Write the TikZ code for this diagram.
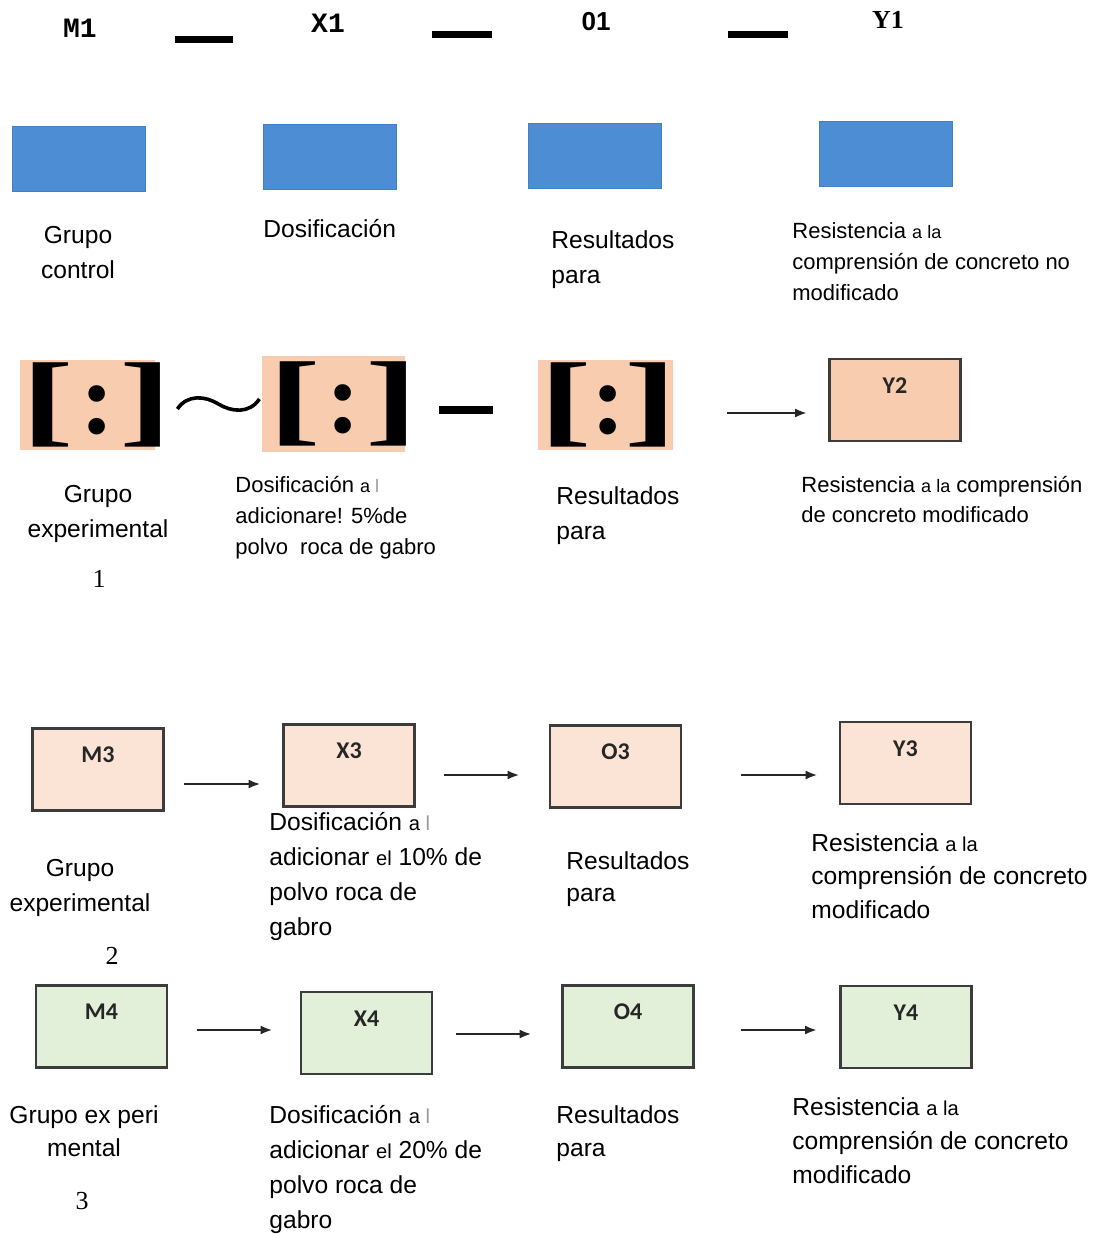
\documentclass[tikz,border=0pt]{standalone}
\usepackage{fontspec}
\usepackage{graphicx}
\setmainfont{Liberation Sans}
\newfontfamily\serfont{Liberation Serif}
\newfontfamily\boxfont{Carlito}
\newfontfamily\hdmono{Liberation Mono}
\usetikzlibrary{arrows.meta}

\definecolor{blueb}{RGB}{76,141,212}
\definecolor{bluebd}{RGB}{66,128,196}
\definecolor{peach}{RGB}{248,204,174}
\definecolor{peachlt}{RGB}{251,228,213}
\definecolor{greenlt}{RGB}{226,240,217}
\definecolor{edge}{RGB}{60,60,60}

\makeatletter
\newcommand\smw[1]{{\fontsize{\fpeval{0.82*\f@size}}{\f@baselineskip}\selectfont #1}}
\makeatother
\newcommand\brkt[1]{\hspace*{1pt}\scalebox{1.55}[1]{[}\hspace{#1}:\hspace{#1}\scalebox{1.55}[1]{]}}

\begin{document}
\begin{tikzpicture}
	[x=0.5pt,y=-0.5pt,every node/.style={inner sep=0pt},
	bluebox/.style={fill=blueb,draw=bluebd,line width=0.5pt,minimum width=66.5pt,minimum height=32.5pt},
	brk/.style={fill=peach,minimum width=67.5pt,minimum height=45pt,font=\serfont\bfseries\fontsize{51}{51}\selectfont},
	box/.style={draw=edge,line width=1.4pt,minimum width=65.5pt,minimum height=41pt,text height=9pt,text depth=16pt,font=\boxfont\bfseries\fontsize{12}{12}\selectfont,text=black!85},
	arr/.style={-{Latex[length=6pt,width=4.5pt]},line width=1.2pt,draw=black!85},
	hbar/.style={line width=3.5pt},
	lbl/.style={anchor=north west,align=left,font=\fontsize{12.3}{17.5}\selectfont},
	lblc/.style={lbl,anchor=north,align=center},
	lsm/.style={lbl,font=\fontsize{11}{15.5}\selectfont},
	num/.style={anchor=north,font=\serfont\fontsize{13}{13}\selectfont}]
	\useasboundingbox (0,0) rectangle (1099,1235);

	% header
	\node[font=\hdmono\bfseries\fontsize{14}{14}\selectfont] (m1) at (80,28) {M1};
	\node[font=\hdmono\bfseries\fontsize{14}{14}\selectfont] (x1) at (328,23) {X1};
	\node[font=\bfseries\fontsize{13}{13}\selectfont] (o1) at (596,22) {01};
	\node[font=\serfont\bfseries\fontsize{13}{13}\selectfont] (y1) at (888,20) {Y1};
	\draw[hbar,shorten <=47.5pt,shorten >=47.5pt] ([yshift=-6pt]m1.center) -- ([yshift=-8.5pt]x1.center);
	\draw[hbar,shorten <=52pt,shorten >=52pt] ([yshift=-6pt]x1.center) -- ([yshift=-6.5pt]o1.center);
	\draw[hbar,shorten <=66pt,shorten >=50pt] ([yshift=-6.5pt]o1.center) -- ([yshift=-7.5pt]y1.center);

	% control group
	\node[bluebox] (b1) at (78.5,159.5) {};
	\node[bluebox] (b2) at (329.5,157.5) {};
	\node[bluebox] (b3) at (594.5,156.5) {};
	\node[bluebox] (b4) at (886,154) {};
	\node[lblc] (t1) at (78,226) {Grupo\\control};
	\node[lbl] (t2) at (263,219) {Dosificación};
	\node[lbl] (t3) at (551,230) {Resultados\\para};
	\node[lsm] (t4) at (792,222) {Resistencia \smw{a la}\\comprensión de concreto no\\modificado};

	% experimental group 1
	\node[brk] (k1) at (87.5,405) {\makebox[67.5pt][l]{\brkt{2.8pt}}};
	\node[brk,minimum width=71.5pt,minimum height=48pt] (k2) at (333.5,404) {\makebox[71.5pt][l]{\hspace*{2pt}\brkt{2.8pt}}};
	\node[brk] (k3) at (605,405) {\makebox[67.5pt][l]{\brkt{-0.5pt}}};
	\node[box,fill=peach] (y2) at (895,400) {Y2};
	\draw[line width=1.8pt] ([xshift=11pt,yshift=-2pt]k1.east) .. controls +(5pt,7.5pt) and +(-6.5pt,4pt) .. ++(20.5pt,2.5pt) .. controls +(6.5pt,-4pt) and +(-5pt,-7.5pt) .. ++(20.5pt,2.5pt);
	\draw[line width=4pt,shorten <=17pt,shorten >=22.25pt] ([yshift=-3pt]k2.east) -- ([yshift=-2.5pt]k3.west);
	\draw[arr,shorten <=27.25pt,shorten >=10.5pt] ([yshift=-4pt]k3.east) -- ([yshift=-6.5pt]y2.west);
	\node[lblc] (e1) at (98,485) {Grupo\\experimental};
	\node[num] (n1) at (99,570) {1};
	\node[lsm] (d1) at (235,476) {Dosificación \smw{a {\color{black!40}l}}\\adicionare! 5\%de\\polvo\ \ roca de gabro};
	\node[lbl] (r1) at (556,486) {Resultados\\para};
	\node[lsm,font=\fontsize{11}{15}\selectfont] (s1) at (801,476) {Resistencia \smw{a la} comprensión\\de concreto modificado};

	% experimental group 2
	\node[box,fill=peachlt] (m3) at (98,769.5) {M3};
	\node[box,fill=peachlt] (x3) at (349,765.5) {X3};
	\node[box,fill=peachlt] (o3) at (615.5,766.5) {O3};
	\node[box,fill=peachlt] (y3) at (905.5,763) {Y3};
	\draw[arr,shorten <=9.75pt,shorten >=10.75pt] ([yshift=-7.25pt]m3.east) -- ([yshift=-9.25pt]x3.west);
	\draw[arr,shorten <=14.25pt,shorten >=14.5pt] ([yshift=-4.75pt]x3.east) -- ([yshift=-4.25pt]o3.west);
	\draw[arr,shorten <=29.5pt,shorten >=10.5pt] ([yshift=-4.25pt]o3.east) -- ([yshift=-6pt]y3.west);
	\node[lblc] (e2) at (80,859) {Grupo\\experimental};
	\node[num] (n2) at (112,947) {2};
	\node[lbl] (d2) at (269,812) {Dosificación \smw{a {\color{black!40}l}}\\adicionar \smw{el} 10\% de\\polvo roca de\\gabro};
	\node[lbl,font=\fontsize{12.3}{16}\selectfont] (r2) at (566,851) {Resultados\\para};
	\node[lbl,font=\fontsize{12.3}{16.75}\selectfont] (s2) at (811,833) {Resistencia \smw{a la}\\comprensión de concreto\\modificado};

	% experimental group 3
	\node[box,fill=greenlt] (m4) at (101.5,1026.5) {M4};
	\node[box,fill=greenlt] (x4) at (366.5,1033) {X4};
	\node[box,fill=greenlt] (o4) at (628,1026.5) {O4};
	\node[box,fill=greenlt] (y4) at (906,1027) {Y4};
	\draw[arr,shorten <=14.5pt,shorten >=13.5pt] ([yshift=-1.75pt]m4.east) -- ([yshift=1.5pt]x4.west);
	\draw[arr,shorten <=11.5pt,shorten >=14.75pt] ([yshift=-0.5pt]x4.east) -- ([yshift=-3.75pt]o4.west);
	\draw[arr,shorten <=23.25pt,shorten >=11pt] ([yshift=-1.75pt]o4.east) -- ([yshift=-1.5pt]y4.west);
	\node[lblc,font=\fontsize{12.3}{16.5}\selectfont] (e3) at (84,1105) {Grupo ex peri\\mental};
	\node[num] (n3) at (82,1192) {3};
	\node[lbl] (d3) at (269,1105) {Dosificación \smw{a {\color{black!40}l}}\\adicionar \smw{el} 20\% de\\polvo roca de\\gabro};
	\node[lbl,font=\fontsize{12.3}{16.5}\selectfont] (r3) at (556,1105) {Resultados\\para};
	\node[lbl,font=\fontsize{12.3}{17}\selectfont] (s3) at (792,1097) {Resistencia \smw{a la}\\comprensión de concreto\\modificado};
\end{tikzpicture}
\end{document}
